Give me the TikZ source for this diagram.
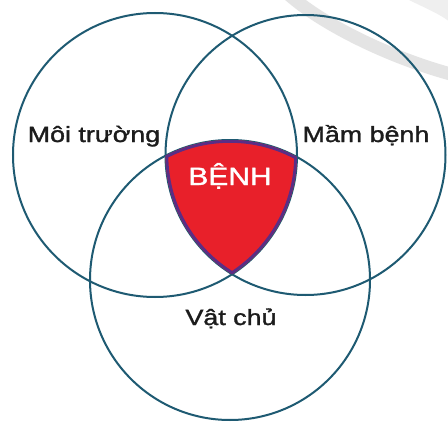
\documentclass[tikz,border=0pt]{standalone}
\usepackage{fontspec}
\setmainfont{Liberation Sans}
\newfontfamily\heavyfont[FakeBold=1.3]{Liberation Sans}
\definecolor{ringc}{HTML}{1E5A72}
\definecolor{redf}{HTML}{E8202A}
\definecolor{purp}{HTML}{5B2D86}
\definecolor{txt}{HTML}{1C1C1C}
\definecolor{wm}{HTML}{E4E4E4}
\begin{document}
\begin{tikzpicture}[x=1pt,y=-1pt,
  ring/.style={draw=ringc,line width=2pt},
  lbl/.style={inner sep=0pt,anchor=base,text=txt,font=\heavyfont\fontsize{22}{24}\selectfont},
  core/.style={inner sep=0pt,anchor=base,text=white,font=\heavyfont\fontsize{25}{27}\selectfont}]
\useasboundingbox (0,0) rectangle (448,423);
\fill[white] (0,0) rectangle (448,423);
% faint background band
\draw[wm,line width=13pt] (286,-8) .. controls (318,22) and (388,58) .. (458,76);
\fill[wm!60] (405,-2) .. controls (425,8) and (440,14) .. (450,22) -- (450,-2) -- cycle;
% circle centres
\coordinate (cl) at (155,155);
\coordinate (cr) at (305.5,155);
\coordinate (cb) at (230,280);
% circles
\draw[ring] (cl) circle[radius=142];
\draw[ring] (cr) circle[radius=140];
\draw[ring] (cb) circle[radius=140];
% central region
\begin{scope}
  \clip (cl) circle[radius=142];
  \clip (cr) circle[radius=140];
  \clip (cb) circle[radius=140];
  \fill[redf] (0,0) rectangle (448,423);
  \draw[purp,line width=5.6pt] (cl) circle[radius=142];
  \draw[purp,line width=5.6pt] (cr) circle[radius=140];
  \draw[purp,line width=5.6pt] (cb) circle[radius=140];
\end{scope}
% labels
\node[lbl] (env) at (94,142) {\scalebox{1.22}[1]{Môi trường}};
\node[lbl] (pat) at (366,142) {\scalebox{1.22}[1]{Mầm bệnh}};
\node[lbl] (host) at (231,325) {\scalebox{1.22}[1]{Vật chủ}};
\node[core] (dis) at (230,185) {\scalebox{1.2}[1]{BỆNH}};
\end{tikzpicture}
\end{document}
